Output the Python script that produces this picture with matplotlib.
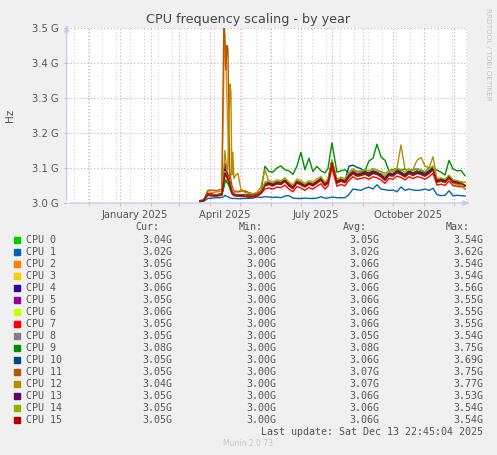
import pandas as pd
import matplotlib
matplotlib.use('Agg')
import matplotlib.pyplot as plt

# munin "cpu frequency scaling - by year", values in MHz
START = pd.Timestamp('2025-03-22')
DAYS = [0, 4, 8, 12, 16, 20, 22, 24, 25, 26, 27,
        28, 29, 30, 31, 32, 33, 34, 36, 38, 41, 45,
        49, 53, 57, 61, 65, 69, 73, 77, 81, 85, 89,
        93, 97, 101, 105, 109, 113, 117, 121, 125, 128, 132,
        137, 141, 145, 149, 153, 157, 161, 165, 169, 173, 177,
        181, 185, 189, 193, 197, 201, 205, 209, 213, 217, 221,
        225, 229, 233, 237, 241, 245, 249, 253, 257, 261, 265]

CPU0 = [3005, 3008, 3024, 3023, 3022, 3023, 3024, 3048, 3057, 3062, 3060,
        3056, 3052, 3046, 3038, 3030, 3026, 3023, 3022, 3021, 3021, 3020,
        3020, 3019, 3021, 3028, 3050, 3053, 3049, 3055, 3053, 3061, 3049,
        3041, 3057, 3052, 3045, 3053, 3049, 3057, 3064, 3049, 3057, 3112,
        3057, 3062, 3058, 3074, 3084, 3076, 3078, 3082, 3076, 3084, 3081,
        3075, 3065, 3079, 3076, 3086, 3081, 3074, 3084, 3078, 3084, 3081,
        3076, 3084, 3094, 3059, 3062, 3058, 3070, 3057, 3054, 3050, 3040]
CPU1 = [3003, 3005, 3013, 3014, 3015, 3015, 3016, 3018, 3022, 3020, 3019,
        3018, 3016, 3015, 3014, 3013, 3013, 3013, 3013, 3012, 3013, 3013,
        3013, 3014, 3017, 3016, 3018, 3017, 3016, 3017, 3015, 3020, 3021,
        3014, 3013, 3013, 3014, 3013, 3013, 3014, 3018, 3014, 3014, 3017,
        3015, 3015, 3015, 3024, 3040, 3038, 3036, 3042, 3045, 3040, 3052,
        3040, 3038, 3036, 3037, 3032, 3046, 3036, 3040, 3037, 3036, 3037,
        3040, 3036, 3042, 3024, 3021, 3022, 3035, 3021, 3022, 3021, 3020]
CPU2 = [3005, 3009, 3032, 3030, 3031, 3033, 3034, 3380, 3460, 3420, 3300,
        3200, 3110, 3060, 3045, 3036, 3032, 3030, 3032, 3034, 3035, 3033,
        3028, 3024, 3025, 3032, 3053, 3055, 3051, 3057, 3057, 3063, 3051,
        3043, 3059, 3056, 3047, 3055, 3053, 3059, 3069, 3051, 3061, 3116,
        3059, 3065, 3060, 3079, 3087, 3081, 3081, 3087, 3079, 3089, 3084,
        3079, 3067, 3083, 3079, 3089, 3086, 3077, 3089, 3081, 3087, 3086,
        3079, 3089, 3097, 3062, 3065, 3063, 3074, 3061, 3061, 3057, 3050]
CPU3 = [3005, 3008, 3025, 3024, 3022, 3024, 3025, 3060, 3088, 3085, 3078,
        3072, 3064, 3052, 3040, 3030, 3026, 3024, 3023, 3022, 3022, 3021,
        3022, 3020, 3022, 3030, 3053, 3057, 3053, 3059, 3057, 3065, 3053,
        3045, 3061, 3056, 3049, 3057, 3053, 3061, 3069, 3053, 3061, 3116,
        3061, 3067, 3062, 3079, 3089, 3081, 3083, 3087, 3081, 3089, 3086,
        3079, 3069, 3083, 3081, 3091, 3086, 3079, 3089, 3083, 3089, 3086,
        3081, 3089, 3099, 3064, 3067, 3063, 3076, 3063, 3061, 3059, 3050]
CPU4 = [3005, 3008, 3027, 3025, 3023, 3025, 3026, 3070, 3113, 3095, 3088,
        3080, 3070, 3056, 3042, 3032, 3028, 3025, 3024, 3023, 3023, 3022,
        3023, 3021, 3023, 3031, 3054, 3058, 3054, 3060, 3058, 3066, 3054,
        3046, 3062, 3057, 3050, 3058, 3054, 3062, 3070, 3054, 3062, 3118,
        3062, 3068, 3063, 3080, 3090, 3082, 3084, 3088, 3082, 3090, 3087,
        3080, 3070, 3084, 3082, 3092, 3087, 3080, 3090, 3084, 3090, 3087,
        3082, 3090, 3100, 3065, 3068, 3064, 3077, 3064, 3062, 3060, 3060]
CPU5 = [3005, 3008, 3026, 3024, 3022, 3024, 3025, 3065, 3105, 3090, 3082,
        3076, 3068, 3055, 3041, 3031, 3027, 3024, 3023, 3022, 3022, 3021,
        3015, 3020, 3022, 3030, 3052, 3056, 3052, 3058, 3056, 3064, 3052,
        3044, 3060, 3055, 3048, 3056, 3052, 3060, 3068, 3052, 3060, 3118,
        3060, 3066, 3061, 3078, 3088, 3080, 3082, 3086, 3080, 3088, 3085,
        3078, 3068, 3082, 3080, 3090, 3085, 3078, 3088, 3082, 3088, 3085,
        3080, 3088, 3098, 3063, 3066, 3062, 3075, 3062, 3060, 3058, 3050]
CPU6 = [3005, 3008, 3024, 3023, 3021, 3023, 3024, 3058, 3085, 3082, 3076,
        3070, 3062, 3051, 3038, 3029, 3025, 3023, 3022, 3021, 3021, 3020,
        3021, 3019, 3021, 3029, 3050, 3054, 3050, 3056, 3054, 3062, 3050,
        3042, 3058, 3053, 3046, 3054, 3050, 3058, 3066, 3050, 3058, 3114,
        3058, 3064, 3059, 3076, 3086, 3078, 3080, 3084, 3078, 3086, 3083,
        3076, 3066, 3080, 3078, 3088, 3083, 3076, 3086, 3080, 3086, 3083,
        3078, 3086, 3096, 3061, 3064, 3060, 3073, 3060, 3058, 3060, 3060]
CPU7 = [3004, 3007, 3022, 3020, 3019, 3021, 3022, 3055, 3080, 3078, 3072,
        3066, 3058, 3048, 3036, 3027, 3023, 3021, 3020, 3019, 3019, 3018,
        3018, 3017, 3019, 3026, 3040, 3043, 3040, 3045, 3044, 3051, 3040,
        3032, 3047, 3043, 3036, 3044, 3040, 3048, 3055, 3040, 3048, 3100,
        3048, 3053, 3049, 3065, 3075, 3068, 3070, 3073, 3068, 3075, 3072,
        3066, 3056, 3070, 3068, 3077, 3073, 3066, 3075, 3070, 3075, 3073,
        3068, 3075, 3085, 3051, 3054, 3050, 3063, 3050, 3048, 3046, 3048]
CPU8 = [3005, 3008, 3025, 3023, 3021, 3023, 3024, 3060, 3086, 3083, 3077,
        3071, 3063, 3052, 3039, 3030, 3026, 3023, 3022, 3021, 3021, 3020,
        3021, 3019, 3021, 3029, 3051, 3055, 3051, 3057, 3055, 3063, 3051,
        3043, 3059, 3054, 3047, 3055, 3051, 3059, 3067, 3051, 3059, 3116,
        3059, 3065, 3060, 3077, 3087, 3079, 3081, 3085, 3079, 3087, 3084,
        3077, 3067, 3081, 3079, 3089, 3084, 3077, 3087, 3081, 3087, 3084,
        3079, 3087, 3097, 3062, 3065, 3061, 3074, 3061, 3059, 3057, 3050]
CPU9 = [3005, 3008, 3024, 3023, 3022, 3024, 3024, 3045, 3062, 3066, 3060,
        3056, 3050, 3042, 3034, 3028, 3025, 3023, 3022, 3021, 3021, 3020,
        3022, 3021, 3023, 3030, 3105, 3090, 3088, 3100, 3106, 3095, 3092,
        3082, 3105, 3145, 3095, 3128, 3090, 3105, 3092, 3086, 3098, 3172,
        3088, 3092, 3095, 3085, 3086, 3090, 3088, 3092, 3120, 3128, 3168,
        3132, 3122, 3092, 3096, 3098, 3093, 3098, 3090, 3094, 3098, 3093,
        3088, 3102, 3098, 3094, 3088, 3080, 3122, 3097, 3092, 3093, 3078]
CPU10 = [3005, 3008, 3026, 3025, 3023, 3025, 3026, 3080, 3100, 3095, 3085,
         3078, 3068, 3056, 3042, 3032, 3028, 3025, 3024, 3023, 3023, 3022,
         3023, 3021, 3023, 3031, 3054, 3058, 3054, 3060, 3058, 3066, 3054,
         3046, 3062, 3057, 3050, 3058, 3054, 3062, 3070, 3054, 3062, 3120,
         3062, 3068, 3063, 3105, 3108, 3102, 3098, 3090, 3086, 3092, 3088,
         3082, 3072, 3086, 3084, 3094, 3088, 3082, 3092, 3086, 3092, 3088,
         3084, 3092, 3102, 3066, 3068, 3064, 3078, 3064, 3062, 3060, 3050]
CPU11 = [3006, 3010, 3036, 3037, 3035, 3038, 3040, 3530, 3480, 3380, 3450,
         3440, 3250, 3090, 3068, 3050, 3042, 3036, 3033, 3031, 3034, 3035,
         3030, 3026, 3028, 3034, 3055, 3058, 3050, 3060, 3055, 3066, 3050,
         3046, 3062, 3053, 3050, 3058, 3050, 3062, 3066, 3054, 3058, 3120,
         3062, 3064, 3063, 3076, 3090, 3078, 3084, 3084, 3082, 3086, 3087,
         3076, 3070, 3080, 3082, 3092, 3083, 3080, 3086, 3084, 3090, 3083,
         3082, 3086, 3100, 3061, 3068, 3060, 3073, 3064, 3058, 3060, 3050]
CPU12 = [3005, 3008, 3025, 3024, 3023, 3025, 3028, 3100, 3150, 3120, 3090,
         3110, 3200, 3340, 3320, 3080, 3145, 3070, 3080, 3085, 3040, 3030,
         3028, 3026, 3030, 3045, 3095, 3060, 3056, 3062, 3060, 3068, 3056,
         3048, 3064, 3060, 3052, 3060, 3056, 3064, 3072, 3056, 3064, 3122,
         3064, 3070, 3066, 3082, 3094, 3088, 3092, 3094, 3092, 3098, 3094,
         3090, 3085, 3092, 3094, 3100, 3166, 3096, 3092, 3096, 3122, 3130,
         3106, 3100, 3132, 3068, 3064, 3060, 3070, 3058, 3052, 3050, 3040]
CPU13 = [3005, 3008, 3026, 3025, 3023, 3025, 3026, 3066, 3096, 3090, 3084,
         3077, 3068, 3055, 3041, 3032, 3028, 3025, 3024, 3023, 3023, 3022,
         3022, 3021, 3023, 3031, 3053, 3057, 3053, 3059, 3057, 3065, 3053,
         3045, 3061, 3056, 3049, 3057, 3053, 3061, 3069, 3053, 3061, 3119,
         3061, 3067, 3062, 3079, 3089, 3081, 3083, 3087, 3081, 3089, 3086,
         3079, 3069, 3083, 3081, 3091, 3086, 3079, 3089, 3083, 3089, 3086,
         3081, 3089, 3099, 3064, 3067, 3063, 3076, 3063, 3061, 3059, 3050]
CPU14 = [3005, 3008, 3025, 3024, 3022, 3024, 3025, 3062, 3090, 3086, 3080,
         3074, 3066, 3054, 3040, 3031, 3027, 3024, 3023, 3022, 3022, 3021,
         3022, 3020, 3022, 3030, 3060, 3064, 3060, 3066, 3064, 3072, 3060,
         3052, 3069, 3064, 3056, 3064, 3061, 3069, 3076, 3060, 3068, 3124,
         3068, 3074, 3070, 3088, 3098, 3091, 3092, 3096, 3091, 3098, 3094,
         3088, 3078, 3092, 3090, 3100, 3095, 3088, 3098, 3092, 3098, 3095,
         3090, 3098, 3106, 3070, 3072, 3068, 3080, 3066, 3064, 3060, 3050]
CPU15 = [3005, 3008, 3024, 3022, 3021, 3023, 3024, 3060, 3085, 3082, 3076,
         3070, 3062, 3051, 3038, 3029, 3025, 3023, 3022, 3021, 3021, 3020,
         3020, 3019, 3021, 3028, 3049, 3053, 3049, 3055, 3053, 3062, 3049,
         3041, 3057, 3052, 3046, 3054, 3049, 3057, 3066, 3050, 3057, 3115,
         3057, 3063, 3058, 3074, 3084, 3077, 3079, 3083, 3077, 3085, 3082,
         3075, 3065, 3079, 3077, 3087, 3082, 3075, 3085, 3079, 3085, 3082,
         3077, 3085, 3095, 3060, 3063, 3059, 3072, 3059, 3057, 3055, 3050]

SERIES = [CPU0, CPU1, CPU2, CPU3, CPU4, CPU5, CPU6, CPU7,
          CPU8, CPU9, CPU10, CPU11, CPU12, CPU13, CPU14, CPU15]
NAMES = ['CPU 0', 'CPU 1', 'CPU 2', 'CPU 3', 'CPU 4', 'CPU 5', 'CPU 6', 'CPU 7',
         'CPU 8', 'CPU 9', 'CPU 10', 'CPU 11', 'CPU 12', 'CPU 13', 'CPU 14', 'CPU 15']
COLORS = ['#00CC00', '#0066B3', '#FF8000', '#FFCC00', '#330099', '#990099', '#CCFF00', '#FF0000',
          '#808080', '#008F00', '#00487D', '#B35A00', '#B38F00', '#6B006B', '#8FB300', '#B30000']
CUR = ['3.04G', '3.02G', '3.05G', '3.05G', '3.06G', '3.05G', '3.06G', '3.05G',
       '3.05G', '3.08G', '3.05G', '3.05G', '3.04G', '3.05G', '3.05G', '3.05G']
MIN = ['3.00G'] * 16
AVG = ['3.05G', '3.02G', '3.06G', '3.06G', '3.06G', '3.06G', '3.06G', '3.06G',
       '3.05G', '3.08G', '3.06G', '3.07G', '3.07G', '3.06G', '3.06G', '3.06G']
MAX = ['3.54G', '3.62G', '3.54G', '3.54G', '3.56G', '3.55G', '3.55G', '3.55G',
       '3.54G', '3.75G', '3.69G', '3.75G', '3.77G', '3.53G', '3.54G', '3.54G']
YTICKS = [3.0, 3.1, 3.2, 3.3, 3.4, 3.5]
YLABELS = ['3.0 G', '3.1 G', '3.2 G', '3.3 G', '3.4 G', '3.5 G']
XLABELS = ['January 2025', 'April 2025', 'July 2025', 'October 2025']
XLABEL_POS = ['2025-01-16', '2025-04-16', '2025-07-16', '2025-10-16']

BG = '#F0F0F0'
TXT = '#555555'
W, H = 497, 455

fig = plt.figure(figsize=(W / 100, H / 100), dpi=100, facecolor=BG)
ax = fig.add_axes([66.7 / W, 1 - 203 / H, 400.3 / W, 175 / H])
ax.set_facecolor('white')

t0 = pd.Timestamp('2024-11-08 22:45')
t1 = pd.Timestamp('2025-12-13 22:45')

# grid: grey every two weeks, red at month starts and at 0.1 G
for d in pd.date_range('2024-11-16', t1, freq='14D'):
    ax.axvline(d, color='#d4d4d4', lw=0.8, ls=(0, (1, 2)), zorder=1)
months = pd.date_range('2024-12-01', t1, freq='MS')
for d in months:
    ax.axvline(d, color='#e8a8a8', lw=0.8, ls=(0, (1, 2)), zorder=1)
for y in YTICKS:
    ax.axhline(y, color='#e8a8a8', lw=0.8, ls=(0, (1, 2)), zorder=1)

x = [START + pd.Timedelta(days=d) for d in DAYS]
for vals, c in zip(SERIES, COLORS):
    ax.plot(x, [v / 1000 for v in vals], color=c, lw=1.0, zorder=3)

ax.set_xlim(t0, t1)
ax.set_ylim(3.0, 3.5)
for s in ax.spines.values():
    s.set_visible(False)

ax.set_yticks(YTICKS)
ax.set_yticklabels(YLABELS, fontsize=7.2, color=TXT)
ax.tick_params(axis='y', length=2, color='#e8a8a8', pad=4)
ax.set_xticks([pd.Timestamp(p) for p in XLABEL_POS])
ax.set_xticklabels(XLABELS, fontsize=7.2, color=TXT)
ax.tick_params(axis='x', which='major', length=0, pad=5)
ax.set_xticks(months, minor=True)
ax.tick_params(axis='x', which='minor', length=2, color='#e8a8a8')

# axis lines with arrows
acol = '#c8c8f0'
ax.annotate('', xy=(0, 1.035), xytext=(0, 0), xycoords='axes fraction',
            arrowprops=dict(arrowstyle='-|>,head_width=0.15,head_length=0.4', color=acol, lw=0.9))
ax.annotate('', xy=(1.015, 0), xytext=(0, 0), xycoords='axes fraction',
            arrowprops=dict(arrowstyle='-|>,head_width=0.15,head_length=0.4', color=acol, lw=0.9))

fig.text(248 / W, 1 - 19 / H, 'CPU frequency scaling - by year', ha='center', va='center',
         fontsize=9.2, color='#444444')
fig.text(10 / W, 1 - 115 / H, 'Hz', rotation=90, ha='center', va='center', fontsize=7.5, color=TXT)
fig.text(488 / W, 1 - 54 / H, 'RRDTOOL / TOBI OETIKER', rotation=270, ha='center', va='center',
         fontsize=5.2, color='#c4c4c4')

# legend table
mono = dict(family='DejaVu Sans Mono', fontsize=7.2, color=TXT, va='center')
for hx, h in zip([159, 263, 367, 470], ['Cur:', 'Min:', 'Avg:', 'Max:']):
    fig.text(hx / W, 1 - 227 / H, h, ha='right', **mono)
for i in range(16):
    yy = 240 + 12 * i
    fig.patches.append(plt.Rectangle((14 / W, 1 - (yy + 3) / H), 6 / W, 6 / H,
                                     transform=fig.transFigure, color=COLORS[i], figure=fig))
    fig.text(26 / W, 1 - yy / H, NAMES[i], ha='left', **mono)
    for cx, col in zip([172, 276, 379, 483], [CUR, MIN, AVG, MAX]):
        fig.text(cx / W, 1 - yy / H, col[i], ha='right', **mono)
fig.text(483 / W, 1 - 432 / H, 'Last update: Sat Dec 13 22:45:04 2025', ha='right', **mono)
fig.text(248 / W, 1 - 444 / H, 'Munin 2.0.73', ha='center', va='center', fontsize=5.5, color='#c8c8c8')

fig.savefig('out.png', dpi=100, facecolor=BG)
